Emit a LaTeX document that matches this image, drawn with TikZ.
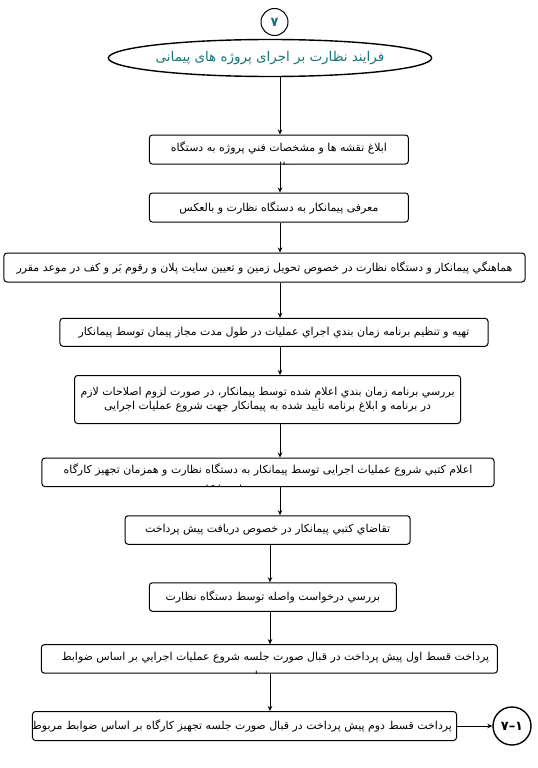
\documentclass[tikz,border=0pt]{standalone}
\usepackage{fontspec}
\setmainfont{DejaVu Sans}
\newfontfamily\fa[Script=Arabic]{DejaVu Sans}
\TeXXeTstate=1
\usetikzlibrary{arrows.meta,shapes.geometric,calc}
\definecolor{tealtxt}{RGB}{22,118,118}
\tikzset{
  boxst/.style={draw, rounded corners=3bp, line width=1bp, inner sep=0pt, align=center,
    font=\fa\fontsize{11}{14}\selectfont},
  cliptxt/.style={font=\fa\fontsize{11}{14}\selectfont, inner sep=0pt},
  arr/.style={-{Stealth[length=5bp,width=4.5bp]}, line width=0.8bp},
}
\begin{document}
\begin{tikzpicture}[x=1bp,y=-1bp]
\useasboundingbox (0,0) rectangle (538,768);
\coordinate (colA) at (280,0);
\coordinate (colB) at (270,0);

% top circle and title ellipse
\node[draw, circle, line width=1bp, minimum size=27bp, inner sep=0pt, text=tealtxt,
  font=\bfseries\fontsize{13}{13}\selectfont] (c7) at (274.5,22) {۷};
\node[draw, ellipse, line width=1.4bp, minimum width=280bp, minimum height=37bp, inner sep=0pt,
  text=tealtxt, font=\fa\fontsize{13.5}{16}\selectfont] (title) at (270,58)
  {\beginR فرایند نظارت بر اجرای پروژه های پیمانی\endR};

% boxes
\node[boxst, minimum width=259bp, minimum height=29bp,
  path picture={
    \node[cliptxt] (b1a) at ([yshift=2bp]path picture bounding box.center)
      {\beginR ابلاغ نقشه ها و مشخصات فني پروژه به دستگاه\endR};
    \node[cliptxt] (b1b) at ([yshift=-18bp]path picture bounding box.center)
      {\beginR نظارت\endR};}] (b1) at (278.9,149.5) {};

\node[boxst, minimum width=259bp, minimum height=29bp] (b2) at (278.9,207.5)
  {\beginR معرفی پیمانکار به دستگاه نظارت و بالعکس\endR};

\node[boxst, minimum width=521bp, minimum height=29bp] (b3) at (264.5,267.5)
  {\beginR هماهنگي پیمانکار و دستگاه نظارت در خصوص تحویل زمین و تعیین سایت پلان و رقوم بَر و کف در موعد مقرر\endR};

\node[boxst, minimum width=428bp, minimum height=28bp] (b4) at (274,332.3)
  {\beginR تهیه و تنظیم برنامه زمان بندي اجراي عملیات در طول مدت مجاز پیمان توسط پیمانکار\endR};

\node[boxst, minimum width=386bp, minimum height=48bp] (b5) at (267.6,399.5)
  {\beginR بررسي برنامه زمان بندي اعلام شده توسط پیمانکار، در صورت لزوم اصلاحات لازم\endR\\
   \beginR در برنامه و ابلاغ برنامه تأیید شده به پیمانکار جهت شروع عملیات اجرایی\endR};

\node[boxst, minimum width=452bp, minimum height=28.6bp,
  path picture={
    \node[cliptxt] (b6a) at ([yshift=2bp]path picture bounding box.center)
      {\beginR اعلام کتبي شروع عملیات اجرایی توسط پیمانکار به دستگاه نظارت و همزمان تجهیز کارگاه\endR};
    \node[cliptxt] (b6b) at ([xshift=-35bp,yshift=-18bp]path picture bounding box.center)
      {\beginR توسط پیمانکار\endR};}] (b6) at (268,472.3) {};

\node[boxst, minimum width=285bp, minimum height=28.5bp] (b7) at (267.6,530)
  {\beginR تقاضاي کتبي پیمانکار در خصوص دریافت پیش پرداخت\endR};

\node[boxst, minimum width=247bp, minimum height=28.5bp] (b8) at (272.9,597)
  {\beginR بررسي درخواست واصله توسط دستگاه نظارت\endR};

\node[boxst, minimum width=456bp, minimum height=28.5bp,
  path picture={
    \node[cliptxt] (b9a) at ([xshift=6bp,yshift=1bp]path picture bounding box.center)
      {\beginR پرداخت قسط اول پیش پرداخت در قبال صورت جلسه شروع عملیات اجرایي بر اساس ضوابط\endR};
    \node[cliptxt] (b9b) at ([xshift=-3bp,yshift=-18bp]path picture bounding box.center)
      {\beginR مربوطه\endR};}] (b9) at (269.4,658.9) {};

\node[boxst, minimum width=424bp, minimum height=29bp,
  path picture={\node[cliptxt, anchor=east] (b10a) at ([xshift=-4bp]path picture bounding box.east)
  {\beginR پرداخت قسط دوم پیش پرداخت در قبال صورت جلسه تجهیز کارگاه بر اساس ضوابط مربوطه\endR};}] (b10) at (244.5,726) {};

\node[draw, circle, line width=1.4bp, minimum size=38bp, inner sep=0pt,
  font=\bfseries\fontsize{13}{13}\selectfont] (c71) at (512,726) {۷–۱};

% connectors
\draw[arr] (title.south -| colA) -- (b1.north -| colA);
\draw[arr] (b1.south -| colA) -- (b2.north -| colA);
\draw[arr] (b2.south -| colA) -- (b3.north -| colA);
\draw[arr] (b3.south -| colA) -- (b4.north -| colA);
\draw[arr] (b4.south -| colA) -- (b5.north -| colA);
\draw[arr] (b5.south -| colA) -- (b6.north -| colA);
\draw[arr] (b6.south -| colA) -- (b7.north -| colA);
\draw[arr] (b7.south -| colB) -- (b8.north -| colB);
\draw[arr] (b8.south -| colB) -- (b9.north -| colB);
\draw[arr] (b9.south -| colB) -- (b10.north -| colB);
\draw[arr] (b10.east) -- (c71.west);
\end{tikzpicture}
\end{document}
